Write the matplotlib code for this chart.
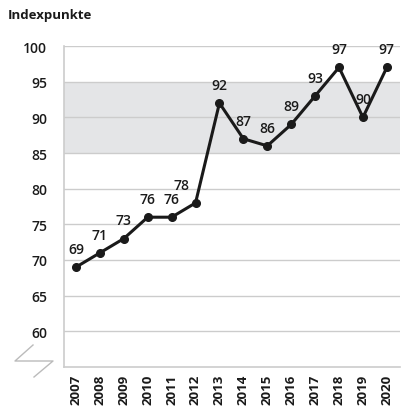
import matplotlib
matplotlib.use("Agg")
import matplotlib.pyplot as plt
from matplotlib.lines import Line2D

plt.rcParams['font.family'] = ['Open Sans', 'DejaVu Sans']

years = [2007, 2008, 2009, 2010, 2011, 2012, 2013, 2014, 2015, 2016, 2017, 2018, 2019, 2020]
values = [69, 71, 73, 76, 76, 78, 92, 87, 86, 89, 93, 97, 90, 97]
yticks = [60, 65, 70, 75, 80, 85, 90, 95, 100]
band = (85, 95)
title = "Indexpunkte"

W, H = 406, 414
fig = plt.figure(figsize=(W / 100, H / 100), dpi=100)
ax = fig.add_axes([64 / W, 1 - 368 / H, 336 / W, 321 / H])

ax.set_xlim(2006.5, 2020.55)
ax.set_ylim(55, 100)

ax.axhspan(band[0], band[1], xmax=1.005, color='#e4e5e7', zorder=0, lw=0)
for t in yticks:
    ax.axhline(t, color='#cccccc', lw=1.0, zorder=1)

ax.plot(years, values, color='#1a1a1a', lw=2.2, marker='o', ms=5.5, zorder=3)

for i, (x, v) in enumerate(zip(years, values)):
    dx = -10 if v == 78 else 0
    ax.annotate(str(v), (x, v), xytext=(dx, 8), textcoords='offset points',
                ha='center', va='bottom', fontsize=10, fontweight='semibold',
                color='#1a1a1a', zorder=2)

for s in ['top', 'right']:
    ax.spines[s].set_visible(False)
ax.spines['left'].set_color('#cccccc')
ax.spines['bottom'].set_color('#cccccc')
ax.spines['left'].set_linewidth(1.2)
ax.spines['bottom'].set_linewidth(1.2)

ax.set_yticks(yticks)
ax.set_yticklabels([str(t) for t in yticks], fontsize=10, fontweight='semibold', color='#1a1a1a')
ax.set_xticks(years)
ax.set_xticklabels([str(y) for y in years], rotation=90, fontsize=9.5, fontweight='bold', color='#1a1a1a')
ax.tick_params(axis='both', length=0)
ax.tick_params(axis='y', pad=12)
ax.tick_params(axis='x', pad=5)

fig.text(8 / W, 1 - 15 / H, title, fontsize=9.5, fontweight='bold', color='#1a1a1a', ha='left', va='center')

# axis break symbol
xs = [33, 15, 53, 34]
ys = [346, 362, 362, 378]
fig.add_artist(Line2D([x / W for x in xs], [1 - y / H for y in ys], color='#bbbbbb', lw=1.0,
                      transform=fig.transFigure))

fig.savefig('out.png', dpi=100)
